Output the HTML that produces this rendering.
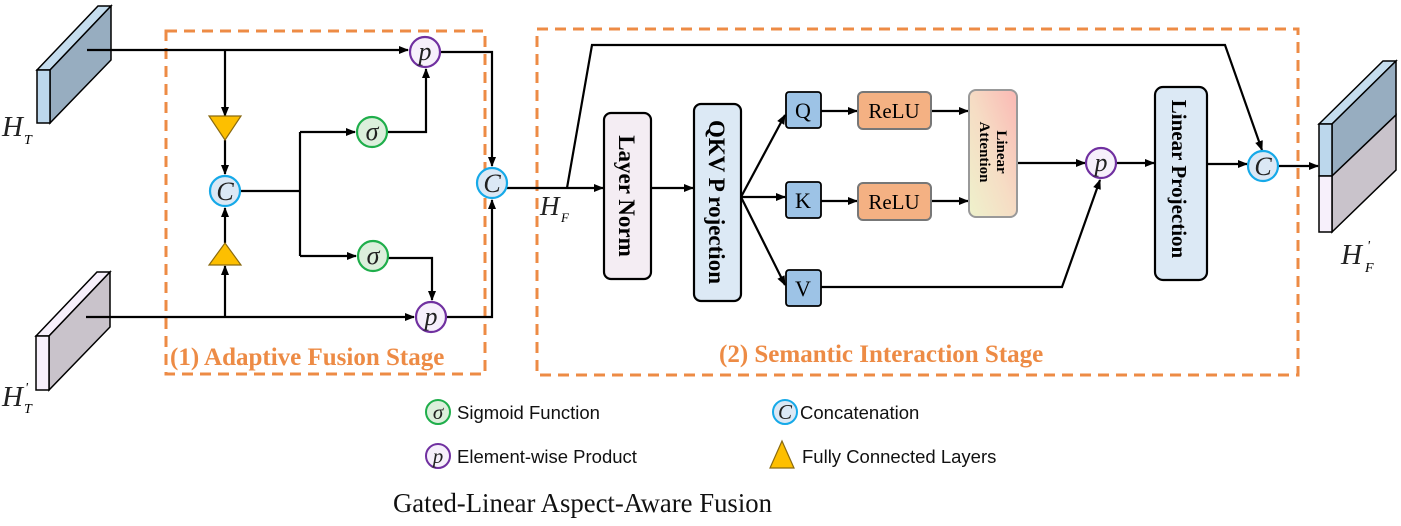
<!DOCTYPE html>
<html><head><meta charset="utf-8"><style>
html,body{margin:0;padding:0;background:#fff;}
svg{display:block;}
.m{font-family:"Liberation Serif",serif;font-style:italic;}
.b{font-family:"Liberation Serif",serif;font-weight:bold;}
.s{font-family:"Liberation Sans",sans-serif;}
</style></head><body>
<svg width="1401" height="526" viewBox="0 0 1401 526" xmlns="http://www.w3.org/2000/svg">
<defs>
<marker id="a" markerWidth="10" markerHeight="10" refX="9" refY="5" orient="auto" markerUnits="userSpaceOnUse"><path d="M0,1 L10,5 L0,9 z" fill="#000"/></marker>
<linearGradient id="la" x1="1" y1="0" x2="0" y2="1"><stop offset="0" stop-color="#fbb8b4"/><stop offset="0.5" stop-color="#f6dcc4"/><stop offset="1" stop-color="#eef2cc"/></linearGradient>
</defs>
<rect x="166" y="31" width="319" height="343" fill="none" stroke="#ed8b45" stroke-width="3" stroke-dasharray="11,7"/>
<rect x="537" y="29" width="761" height="346" fill="none" stroke="#ed8b45" stroke-width="3" stroke-dasharray="11,7"/>
<text x="170" y="365" class="b" font-size="25" fill="#ed8b45">(1) Adaptive Fusion Stage</text>
<text x="719" y="362" class="b" font-size="25" fill="#ed8b45">(2) Semantic Interaction Stage</text>

<polygon points="37,70 98,6 111,6 50,70" fill="#c5ddee" stroke="#000" stroke-width="1.5"/>
<polygon points="50,70 111,6 111,60 50,123" fill="#97adc0" stroke="#000" stroke-width="1.5"/>
<rect x="37" y="70" width="13" height="53" fill="#bcd7ec" stroke="#000" stroke-width="1.5"/>
<text x="2" y="136" class="m" font-size="29" fill="#222">H</text><text x="24" y="144" class="m" font-size="14">T</text>
<polygon points="36,336 97,272 110,272 49,336" fill="#f7f0fb" stroke="#000" stroke-width="1.5"/>
<polygon points="49,336 110,272 110,327 49,390" fill="#c9c3cb" stroke="#000" stroke-width="1.5"/>
<rect x="36" y="336" width="13" height="54" fill="#f7f0fb" stroke="#000" stroke-width="1.5"/>
<text x="2" y="406" class="m" font-size="29" fill="#222">H</text><text x="24" y="413" class="m" font-size="14">T</text><text x="25" y="392" class="m" font-size="14">'</text>

<g stroke="#000" stroke-width="2.2" fill="none">
<path d="M87,50 H408" marker-end="url(#a)"/>
<path d="M225,50 V116" marker-end="url(#a)"/>
<path d="M225,140 V174" marker-end="url(#a)"/>
<path d="M86,317 H414" marker-end="url(#a)"/>
<path d="M225,317 V266" marker-end="url(#a)"/>
<path d="M225,243 V208" marker-end="url(#a)"/>
<path d="M240,191 H300 M300,132 V256"/>
<path d="M300,132 H355" marker-end="url(#a)"/>
<path d="M300,256 H356" marker-end="url(#a)"/>
<path d="M387,132 H426 V69" marker-end="url(#a)"/>
<path d="M388,258 H432 V300" marker-end="url(#a)"/>
<path d="M440,52 H492 V166" marker-end="url(#a)"/>
<path d="M446,317 H492 V200" marker-end="url(#a)"/>
<path d="M507,188 H603" marker-end="url(#a)"/>
<path d="M567,188 L592,45 H1225 L1262,150" marker-end="url(#a)"/>
<path d="M651,188 H693" marker-end="url(#a)"/>
<path d="M741,197 L785,115" marker-end="url(#a)"/>
<path d="M741,197 H785" marker-end="url(#a)"/>
<path d="M741,197 L785,285" marker-end="url(#a)"/>
<path d="M821,111 H857" marker-end="url(#a)"/>
<path d="M821,201 H857" marker-end="url(#a)"/>
<path d="M931,111 H968" marker-end="url(#a)"/>
<path d="M931,201 H968" marker-end="url(#a)"/>
<path d="M1017,163 H1085" marker-end="url(#a)"/>
<path d="M821,287 H1062 L1100,180" marker-end="url(#a)"/>
<path d="M1116,163 H1154" marker-end="url(#a)"/>
<path d="M1207,164 H1247" marker-end="url(#a)"/>
<path d="M1278,166 H1318" marker-end="url(#a)"/>
</g>
<text x="540" y="215" class="m" font-size="27" fill="#222">H</text><text x="561" y="222" class="m" font-size="13">F</text>

<polygon points="209,116 241,116 225,140" fill="#fdbf00" stroke="#8a6a10" stroke-width="1.2"/>
<polygon points="209,265 241,265 225,243" fill="#fdbf00" stroke="#8a6a10" stroke-width="1.2"/>

<g stroke-width="2.2">
<circle cx="425" cy="52" r="15" fill="#f6f0fb" stroke="#7030a0"/>
<circle cx="431" cy="317" r="15" fill="#f6f0fb" stroke="#7030a0"/>
<circle cx="372" cy="132" r="15" fill="#dcefdc" stroke="#1fae4b"/>
<circle cx="373" cy="256" r="15" fill="#dcefdc" stroke="#1fae4b"/>
<circle cx="225" cy="191" r="15" fill="#dbe8f5" stroke="#16a9e8"/>
<circle cx="492" cy="183" r="15" fill="#dbe8f5" stroke="#16a9e8"/>
<circle cx="1101" cy="163" r="15" fill="#f6f0fb" stroke="#7030a0"/>
<circle cx="1263" cy="166" r="15" fill="#dbe8f5" stroke="#16a9e8"/>
</g>
<g class="m" font-size="26" text-anchor="middle" fill="#222">
<text x="425" y="60">p</text><text x="431" y="325">p</text><text x="1101" y="171">p</text>
<text x="372" y="140">σ</text><text x="373" y="264">σ</text>
<text x="225" y="200">C</text><text x="492" y="192">C</text><text x="1263" y="175">C</text>
</g>

<rect x="604" y="113" width="47" height="166" rx="7" fill="#f4edf3" stroke="#000" stroke-width="2.2"/>
<text transform="translate(619,196) rotate(90)" class="b" font-size="23" text-anchor="middle">Layer Norm</text>
<rect x="694" y="104" width="47" height="197" rx="7" fill="#dce9f5" stroke="#000" stroke-width="2.2"/>
<text transform="translate(709,202) rotate(90)" class="b" font-size="23" text-anchor="middle">QKV P rojection</text>
<g stroke="#000" stroke-width="1.8" fill="#9dc3e6">
<rect x="786" y="92" width="35" height="36" rx="3"/>
<rect x="786" y="182" width="35" height="36" rx="3"/>
<rect x="786" y="270" width="35" height="36" rx="3"/>
</g>
<g font-family="Liberation Serif,serif" font-size="22" text-anchor="middle">
<text x="803" y="118">Q</text><text x="803" y="208">K</text><text x="803" y="296">V</text>
</g>
<rect x="858" y="92" width="73" height="37" rx="5" fill="#f4b183" stroke="#777" stroke-width="2"/>
<rect x="858" y="183" width="73" height="37" rx="5" fill="#f4b183" stroke="#777" stroke-width="2"/>
<text x="894" y="118" font-family="Liberation Serif,serif" font-size="21" text-anchor="middle">ReLU</text>
<text x="894" y="209" font-family="Liberation Serif,serif" font-size="21" text-anchor="middle">ReLU</text>
<rect x="969" y="90" width="48" height="127" rx="7" fill="url(#la)" stroke="#999" stroke-width="2"/>
<text transform="translate(997,152) rotate(90)" class="b" font-size="15" text-anchor="middle">Linear</text>
<text transform="translate(980,152) rotate(90)" class="b" font-size="15" text-anchor="middle">Attention</text>
<rect x="1155" y="87" width="52" height="193" rx="8" fill="#dce9f5" stroke="#000" stroke-width="2.2"/>
<text transform="translate(1172,179) rotate(90)" class="b" font-size="21" text-anchor="middle">Linear Projection</text>

<polygon points="1319,124 1383,61 1396,61 1332,124" fill="#c5ddee" stroke="#000" stroke-width="1.5"/>
<polygon points="1332,124 1396,61 1396,115 1332,176" fill="#97adc0" stroke="#000" stroke-width="1.5"/>
<polygon points="1332,176 1396,115 1396,170 1332,232" fill="#c9c3cb" stroke="#000" stroke-width="1.5"/>
<rect x="1319" y="124" width="13" height="52" fill="#bcd7ec" stroke="#000" stroke-width="1.5"/>
<rect x="1319" y="176" width="13" height="56" fill="#f7f0fb" stroke="#000" stroke-width="1.5"/>
<text x="1341" y="264" class="m" font-size="29" fill="#222">H</text><text x="1365" y="272" class="m" font-size="14">F</text><text x="1367" y="250" class="m" font-size="14">'</text>

<g stroke-width="2">
<circle cx="438" cy="412" r="12" fill="#dcefdc" stroke="#1fae4b"/>
<circle cx="438" cy="456" r="12" fill="#f6f0fb" stroke="#7030a0"/>
<circle cx="785" cy="412" r="12" fill="#dbe8f5" stroke="#16a9e8"/>
</g>
<polygon points="770,468 794,468 782,441" fill="#fdbf00" stroke="#8a6a10" stroke-width="1.2"/>
<g class="m" font-size="21" text-anchor="middle" fill="#222">
<text x="438" y="419">σ</text><text x="438" y="463">p</text><text x="785" y="419">C</text>
</g>
<g class="s" font-size="18.5" fill="#111">
<text x="457" y="419">Sigmoid Function</text>
<text x="457" y="463">Element-wise Product</text>
<text x="800" y="419">Concatenation</text>
<text x="802" y="463">Fully Connected Layers</text>
</g>
<text x="393" y="512" font-family="Liberation Serif,serif" font-size="27" fill="#111" textLength="379" lengthAdjust="spacingAndGlyphs">Gated-Linear Aspect-Aware Fusion</text>
</svg>
</body></html>
